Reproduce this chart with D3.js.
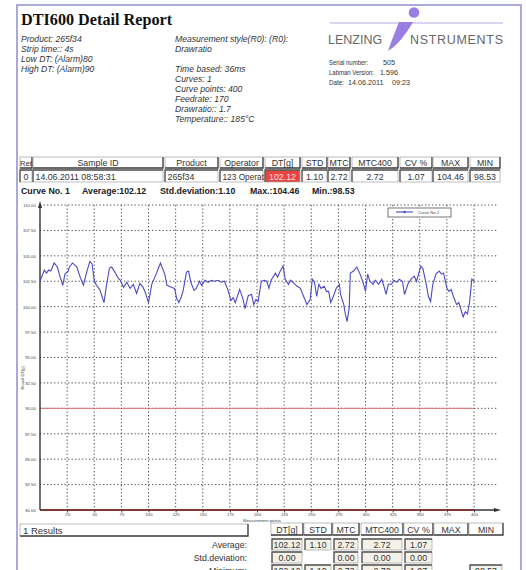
<!DOCTYPE html>
<html>
<head>
<meta charset="utf-8">
<script src="https://cdn.jsdelivr.net/npm/d3@7"></script>
<style>
  body { margin: 0; background: #fff; }
  svg { display: block; font-family: "Liberation Sans", Arial, sans-serif; }
</style>
</head>
<body>
<div id="report"></div>
<script>
// curve No. 1
const pointX = [0,4,6,8,10,13,16,18,21,23,26,27,30,34,37,40,43,46,48,50,52,55,59,61,64,66,69,72,74,77,80,83,86,89,92,95,97,100,103,107,111,115,117,121,124,126,128,130,132,135,137,139,142,144,147,149,152,155,158,161,164,167,170,173,176,178,180,184,187,189,192,195,197,199,201,204,207,209,211,213,217,219,221,224,226,229,231,234,237,240,243,246,249,251,253,255,257,259,262,264,266,268,271,273,276,277,280,281,283,285,286,289,292,295,298,300,302,304,307,309,312,315,317,319,321,324,326,329,331,334,336,339,342,345,347,351,353,356,358,360,362,365,368,370,372,375,377,379,381,384,386,388,390,392,394,396,398,400];
const dtValues = [102.5,103.6,103.3,103.6,103.5,104.3,103.9,103.1,102.1,103.2,103.5,103.9,104.3,103.9,102.9,102.1,103.4,104.46,104.2,102.6,102.1,101.7,100.4,101.9,103.8,103.9,103.4,102.8,102.6,101.9,102.4,101.8,102.2,101.3,102.3,101.9,101.4,100.4,102.2,103.2,104.3,103.2,102.1,101.9,101.8,100.8,100.4,100.9,101.6,103.4,103.5,102.4,101.6,101.8,102.5,102.1,102.6,102.4,102.6,102.5,102.6,102.4,102.5,101.7,100.6,100.9,100.4,101.7,100.8,99.8,101.1,101.2,100.2,100.7,100.5,102.5,102.6,102.5,101.8,102.6,103.3,102.9,103.4,104.0,102.7,102.2,102.6,102.3,102.0,101.8,101.0,100.2,100.7,102.7,102.4,101.0,102.2,101.8,102.0,101.5,101.5,100.4,101.2,101.8,102.2,101.2,100.2,99.5,98.53,99.9,103.3,103.5,103.9,103.2,102.3,101.5,103.2,102.5,102.2,102.6,102.2,102.7,102.0,101.2,102.2,102.2,102.6,102.4,102.7,102.5,101.2,102.2,102.7,103.0,102.5,104.0,103.7,102.2,101.0,100.5,102.2,103.2,103.5,103.2,103.3,101.8,101.5,101.7,101.0,100.2,100.4,99.7,99.0,99.5,99.3,100.5,102.7,102.5];

const xTicks = [25,50,75,100,125,150,175,200,225,250,275,300,325,350,375,400];
const yTicks = [80,82.5,85,87.5,90,92.5,95,97.5,100,102.5,105,107.5,110];
const lowAlarm = 80;
const highAlarm = 90;

const infoLeft = ["Product: 265f34", "Strip time:: 4s", "Low DT: (Alarm)80", "High DT: (Alarm)90"];
const infoMiddle = ["Measurement style(R0): (R0):", "Drawratio", "", "Time based: 36ms", "Curves: 1", "Curve points: 400", "Feedrate: 170", "Drawratio:: 1.7", "Temperature:: 185°C"];
const infoLabels = ["Serial number:", "Labman Version:", "Date:"];
const infoValues = ["505", "1.596", "14.06.2011", "09:23"];

const headers = ["Ret", "Sample ID", "Product", "Operator", "DT[g]", "STD", "MTC", "MTC400", "CV %", "MAX", "MIN"];
const resultRow = ["0", "14.06.2011 08:58:31", "265f34", "123 Operat", "102.12", "1.10", "2.72", "2.72", "1.07", "104.46", "98.53"];
const curveSummary = ["Curve No. 1", "Average:102.12", "Std.deviation:1.10", "Max.:104.46", "Min.:98.53"];

const statHeaders = ["DT[g]", "STD", "MTC", "MTC400", "CV %", "MAX", "MIN"];
const statLabels = ["Average:", "Std.deviation:", "Minimum:"];
const statAverage = ["102.12", "1.10", "2.72", "2.72", "1.07", "", ""];
const statStdDev = ["0.00", "", "0.00", "0.00", "0.00", "", ""];
const statMinimum = ["102.12", "1.10", "2.72", "2.72", "1.07", "", "98.53"];

const W = 526, H = 570;
const svg = d3.select("#report").append("svg").attr("width", W).attr("height", H);

// page frame
svg.append("path")
  .attr("d", "M17,572 L17,5 L521,5 L521,572")
  .attr("fill", "none").attr("stroke", "#a9a9dd").attr("stroke-width", 2);

// title + info
svg.append("text").attr("x", 21).attr("y", 25)
  .attr("font-family", "'Liberation Serif', 'Times New Roman', serif")
  .attr("font-weight", "bold").attr("font-size", 16.2).attr("fill", "#111")
  .text("DTI600 Detail Report");

svg.selectAll(".infoL").data(infoLeft).enter().append("text")
  .attr("x", 21).attr("y", (d, i) => 42 + i * 10)
  .attr("font-size", 8.6).attr("font-style", "italic").attr("fill", "#333").text(d => d);

svg.selectAll(".infoM").data(infoMiddle).enter().append("text")
  .attr("x", 175).attr("y", (d, i) => 42 + i * 10)
  .attr("font-size", 8.6).attr("font-style", "italic").attr("fill", "#333").text(d => d);

// logo
const logo = svg.append("g");
logo.append("line").attr("x1", 330).attr("x2", 503).attr("y1", 23).attr("y2", 23)
  .attr("stroke", "#a595dc").attr("stroke-width", 0.8);
logo.append("text").attr("x", 328).attr("y", 44).attr("font-size", 12.5).attr("fill", "#666").text("LENZING");
logo.append("text").attr("x", 410).attr("y", 44).attr("font-size", 12.5).attr("fill", "#666")
  .attr("textLength", 93).text("NSTRUMENTS");
logo.append("path")
  .attr("d", "M388,51 C391,42 395,32 399,22 L413,22 C406,34 398,45 388,51 Z")
  .attr("fill", "#9a7fe2");
logo.append("circle").attr("cx", 414).attr("cy", 12.5).attr("r", 5.3).attr("fill", "#9a7fe2");

const infoLabelY = [65, 75, 85];
const infoLabelLen = [39, 45, 15];
infoLabels.forEach((t, i) => {
  svg.append("text").attr("x", 329).attr("y", infoLabelY[i]).attr("font-size", 7)
    .attr("textLength", infoLabelLen[i]).attr("lengthAdjust", "spacingAndGlyphs")
    .attr("fill", "#333").text(t);
});
const infoValueX = [383, 380, 348, 392];
const infoValueY = [65, 75, 85, 85];
infoValues.forEach((t, i) => {
  svg.append("text").attr("x", infoValueX[i]).attr("y", infoValueY[i]).attr("font-size", 7.2).attr("fill", "#333").text(t);
});

// table helpers
function cell(x0, x1, y0, y1, style, fill) {
  const g = svg.append("g");
  g.append("rect").attr("x", x0).attr("y", y0).attr("width", x1 - x0).attr("height", y1 - y0)
    .attr("fill", fill || "#fff").attr("stroke", "#a0a0a0").attr("stroke-width", 0.7);
  if (style === "out") {
    g.append("path").attr("d", `M${x1},${y0} L${x1},${y1} L${x0},${y1}`)
      .attr("fill", "none").attr("stroke", "#444").attr("stroke-width", 1.3);
  } else {
    g.append("path").attr("d", `M${x0},${y1} L${x0},${y0} L${x1},${y0}`)
      .attr("fill", "none").attr("stroke", "#555").attr("stroke-width", 1.3);
  }
}
function label(x, y, t, anchor, opts) {
  const o = opts || {};
  svg.append("text").attr("x", x).attr("y", y).attr("text-anchor", anchor || "middle")
    .attr("font-size", o.size || 8.8).attr("font-weight", o.weight || "normal")
    .attr("fill", o.fill || "#333").text(t);
}

// top results table
const colsTop = [[20, 32], [33, 163], [165, 218], [220, 263], [265, 300], [302, 327], [328, 350], [352, 398], [400, 432], [433, 468], [470, 500]];
headers.forEach((h, i) => {
  const [a, b] = colsTop[i];
  cell(a, b, 157, 168, "out");
  label((a + b) / 2, 166, h, "middle", { size: i === 0 ? 7.6 : 8.8 });
});
resultRow.forEach((v, i) => {
  const [a, b] = colsTop[i];
  const red = i === 4;
  cell(a, b, 170, 182, "in", red ? "#e8453f" : "#fff");
  const left = i >= 1 && i <= 3;
  label(left ? a + 2.5 : (a + b) / 2, 179.5, v, left ? "start" : "middle", { fill: red ? "#fde" : "#333", size: i === 3 ? 8.3 : 8.8 });
});

const summaryX = [21, 82, 160, 250, 312];
curveSummary.forEach((t, i) => label(summaryX[i], 194, t, "start", { weight: "bold", size: 8.8, fill: "#222" }));

// chart
const x = d3.scaleLinear().domain([0, 400]).range([40, 474]);
const y = d3.scaleLinear().domain([80, 110]).range([510, 205]);
const xEnd = 497;

const grid = svg.append("g").attr("stroke", "#3a3a3a").attr("stroke-width", 0.9).attr("stroke-dasharray", "1.3,2.2");
grid.selectAll(".hg").data(yTicks.filter(d => d > 80)).enter().append("line")
  .attr("x1", x(0)).attr("x2", xEnd).attr("y1", d => y(d)).attr("y2", d => y(d));
grid.selectAll(".vg").data(xTicks).enter().append("line")
  .attr("x1", d => x(d)).attr("x2", d => x(d)).attr("y1", y(110)).attr("y2", y(80));

// alarm lines
svg.append("line").attr("x1", x(0)).attr("x2", x(400)).attr("y1", y(highAlarm)).attr("y2", y(highAlarm))
  .attr("stroke", "#e07272").attr("stroke-width", 1);

// axes
const xAxis = svg.append("g").attr("transform", `translate(0,${y(80)})`)
  .call(d3.axisBottom(x).tickValues(xTicks).tickSize(2.5).tickPadding(1).tickFormat(d3.format("d")));
xAxis.select(".domain").remove();
xAxis.selectAll("text").attr("font-size", 4.2).attr("fill", "#444").attr("dy", "0.7em");
xAxis.selectAll("line").attr("stroke", "#444");

const yAxis = svg.append("g").attr("transform", `translate(${x(0)},0)`)
  .call(d3.axisLeft(y).tickValues(yTicks).tickSize(0).tickFormat(d3.format(".2f")));
yAxis.select(".domain").remove();
yAxis.selectAll("text").attr("font-size", 4.2).attr("fill", "#444").attr("dx", "-0.3em");

svg.append("line").attr("x1", x(0)).attr("x2", xEnd).attr("y1", y(80)).attr("y2", y(80))
  .attr("stroke", "#333").attr("stroke-width", 1.4);
svg.append("line").attr("x1", x(0)).attr("x2", x(400)).attr("y1", y(lowAlarm)).attr("y2", y(lowAlarm))
  .attr("stroke", "#8a2a2a").attr("stroke-width", 1.4);
svg.append("path").attr("d", `M${xEnd + 4},${y(80)} L${xEnd - 3},${y(80) - 2} L${xEnd - 3},${y(80) + 2} Z`).attr("fill", "#333");
svg.append("line").attr("x1", x(0)).attr("x2", x(0)).attr("y1", y(80)).attr("y2", y(110) - 1)
  .attr("stroke", "#333").attr("stroke-width", 1.4);
svg.append("path").attr("d", `M${x(0)},${y(110) - 4} L${x(0) - 2},${y(110) + 3} L${x(0) + 2},${y(110) + 3} Z`).attr("fill", "#333");

svg.append("text").attr("transform", `translate(24,${(y(92) + y(94)) / 2}) rotate(-90)`)
  .attr("text-anchor", "middle").attr("font-size", 4.2).attr("fill", "#444").text("Result DT[g]");
svg.append("text").attr("x", 262).attr("y", 521.5).attr("text-anchor", "middle")
  .attr("font-size", 4.2).attr("fill", "#444").text("Measurement points");

// the curve
const curve = d3.line().x(d => x(d[0])).y(d => y(d[1]));
svg.append("path").datum(pointX.map((px, i) => [px, dtValues[i]]))
  .attr("d", curve).attr("fill", "none").attr("stroke", "#4a4ac4").attr("stroke-width", 1.1);

// legend
const lg = svg.append("g");
lg.append("rect").attr("x", 388).attr("y", 208).attr("width", 63).attr("height", 9)
  .attr("fill", "#fff").attr("stroke", "#555").attr("stroke-width", 0.8);
lg.append("line").attr("x1", 396).attr("x2", 413).attr("y1", 212).attr("y2", 212)
  .attr("stroke", "#4a4ac4").attr("stroke-width", 1.1);
lg.append("path").attr("d", "M404.5,210.5 L406,212 L404.5,213.5 L403,212 Z").attr("fill", "#4a4ac4");
lg.append("text").attr("x", 418).attr("y", 213.5).attr("font-size", 4.2).attr("fill", "#444").text("Curve No.1");

// bottom statistics
cell(20, 248, 524, 536, "out");
label(23, 533.5, "1 Results", "start", { size: 9.5 });
const colsBot = [[271, 303], [304, 332], [333, 359], [361, 403], [404, 433], [434, 468], [469, 503]];
statHeaders.forEach((h, i) => {
  const [a, b] = colsBot[i];
  cell(a, b, 523, 535, "out");
  label((a + b) / 2, 532.5, h);
});
[statAverage, statStdDev, statMinimum].forEach((row, r) => {
  const y0 = 539 + r * 13;
  label(247, y0 + 8.5, statLabels[r], "end");
  row.forEach((v, i) => {
    if (v === "") return;
    const [a, b] = colsBot[i];
    cell(a + 1, b - 1, y0, y0 + 11, "in", "#f4f2e8");
    label((a + b) / 2, y0 + 8.5, v);
  });
});
</script>
</body>
</html>
